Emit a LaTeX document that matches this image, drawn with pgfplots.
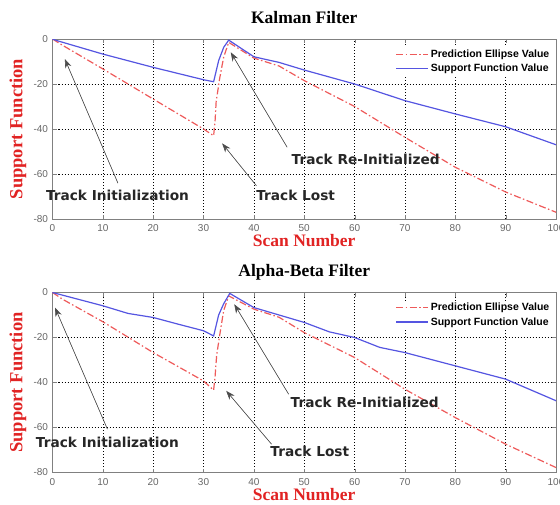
\documentclass[border=0pt]{standalone}
\usepackage{fontspec}
\setmainfont{Liberation Serif}
\setsansfont{Liberation Sans}
\newfontfamily\annfont{DejaVu Sans}
\usepackage{pgfplots}
\pgfplotsset{compat=1.18}
\usetikzlibrary{arrows.meta}

\definecolor{predred}{RGB}{238,90,90}
\definecolor{suppblue}{RGB}{85,85,225}
\definecolor{labred}{RGB}{225,35,35}

\tikzset{
  note/.style={font=\annfont\bfseries\fontsize{13.7}{16}\selectfont, text=black!85},
  pointer/.style={draw=black!70, fill=black, line width=0.6pt, -{Stealth[length=9pt,width=6.5pt]}},
}

\pgfplotsset{
  filterax/.style={
    scale only axis,
    width=503.5pt, height=180pt,
    xmin=0, xmax=100, ymin=-80, ymax=0,
    clip mode=individual,
    xtick={0,10,...,100}, ytick={-80,-60,...,0},
    grid=major,
    major grid style={black, dash pattern=on 1pt off 2pt, line width=0.6pt},
    axis line style={gray},
    tick style={gray},
    major tick length=4pt,
    tick align=inside,
    /pgf/number format/assume math mode=true,
    tick label style={font=\sffamily\fontsize{10}{12}\selectfont, text=gray!80!black},
    xticklabel style={yshift=-2pt},
    yticklabel style={xshift=-1pt},
    title style={at={(axis description cs:0.5,1.055)}, anchor=base,
      font=\bfseries\fontsize{17.5}{20}\selectfont},
    xlabel={Scan Number}, ylabel={Support Function},
    xlabel style={at={(axis description cs:0.5,-0.155)}, anchor=base,
      font=\bfseries\fontsize{17.5}{20}\selectfont, text=labred},
    ylabel style={at={(axis description cs:-0.0685,0.5)}, anchor=center,
      font=\bfseries\fontsize{18.5}{20}\selectfont, text=labred},
    legend style={at={(axis description cs:0.992,0.955)}, anchor=north east,
      draw=none, fill=white, inner sep=0.5pt, row sep=1pt, text=black,
      font=\sffamily\bfseries\fontsize{10.5}{12}\selectfont},
    legend cell align=left,
    legend image code/.code={\draw[#1] plot coordinates {(0pt,0pt) (16pt,0pt) (32pt,0pt)};},
  },
  predline/.style={color=predred, line width=1.2pt, dash pattern=on 7pt off 2.5pt on 1.5pt off 2.5pt},
  suppline/.style={color=suppblue, line width=1.2pt, solid},
}

\begin{document}
\begin{tikzpicture}
\useasboundingbox (0,0) rectangle (560pt,504pt);

% Kalman filter
\begin{axis}[filterax, at={(52.5pt,285pt)}, anchor=south west, title={Kalman Filter}]
\addplot[predline] coordinates {
  (0,0) (2,-2.8) (10,-13.3) (20,-26.7) (30,-40) (32,-43) (32.3,-36) (32.5,-28)
  (33.2,-17.5) (34,-8) (35,-1.5) (40,-8.5) (45,-12) (50,-18.5) (60,-30)
  (70,-43.7) (80,-57) (90,-68) (100,-77)
};
\addlegendentry{Prediction Ellipse Value}
\addplot[suppline] coordinates {
  (0,0) (1,-0.8) (10,-6.7) (20,-12.6) (30,-18.1) (32,-19) (33,-9.6) (34,-3.7)
  (35,-0.5) (40,-7.9) (45,-10.4) (50,-13.8) (60,-20) (70,-27.4) (80,-33.3)
  (90,-39) (100,-47)
};
\addlegendentry{Support Function Value}

\node[note] at (axis cs:12.9,-69.3) {Track Initialization};
\node[note] at (axis cs:48.3,-69.6) {Track Lost};
\node[note] at (axis cs:62.2,-53.3) {Track Re-Initialized};
\draw[pointer] (axis cs:13,-64.1) -- (axis cs:2.45,-8.9);
\draw[pointer] (axis cs:40.5,-65.2) -- (axis cs:33.7,-46.4);
\draw[pointer] (axis cs:46.6,-48.1) -- (axis cs:35.4,-5.9);
\end{axis}

% Alpha-beta filter
\begin{axis}[filterax, at={(52.5pt,31.5pt)}, anchor=south west, title={Alpha-Beta Filter}]
\addplot[predline] coordinates {
  (0,0) (2,-3) (10,-13) (20,-26.7) (30,-39.3) (32,-43.4) (32.3,-37) (32.6,-28)
  (33.2,-19) (34,-8) (35,-1.5) (40,-7.4) (45,-11) (50,-17.8) (60,-28.9)
  (70,-43) (80,-55.6) (90,-67.4) (100,-77.8)
};
\addlegendentry{Prediction Ellipse Value}
\addplot[suppline] coordinates {
  (0,0) (10,-5.9) (15,-9.3) (20,-11.1) (25,-14.1) (30,-17) (32,-19.3) (33,-10)
  (34,-5) (35.2,-0.4) (40,-6.7) (45,-10) (50,-13.3) (55,-17.5) (60,-20)
  (65,-24.4) (70,-26.7) (80,-32.6) (90,-38.5) (100,-48.1)
};
\addlegendentry{Support Function Value}

\node[note] at (axis cs:10.9,-66.4) {Track Initialization};
\node[note] at (axis cs:51.1,-70.4) {Track Lost};
\node[note] at (axis cs:62,-48.9) {Track Re-Initialized};
\draw[pointer] (axis cs:10.9,-60.7) -- (axis cs:0.5,-6.7);
\draw[pointer] (axis cs:43.5,-67.4) -- (axis cs:34.5,-43.7);
\draw[pointer] (axis cs:46.9,-45.2) -- (axis cs:36.1,-5.2);
\end{axis}
\end{tikzpicture}
\end{document}
